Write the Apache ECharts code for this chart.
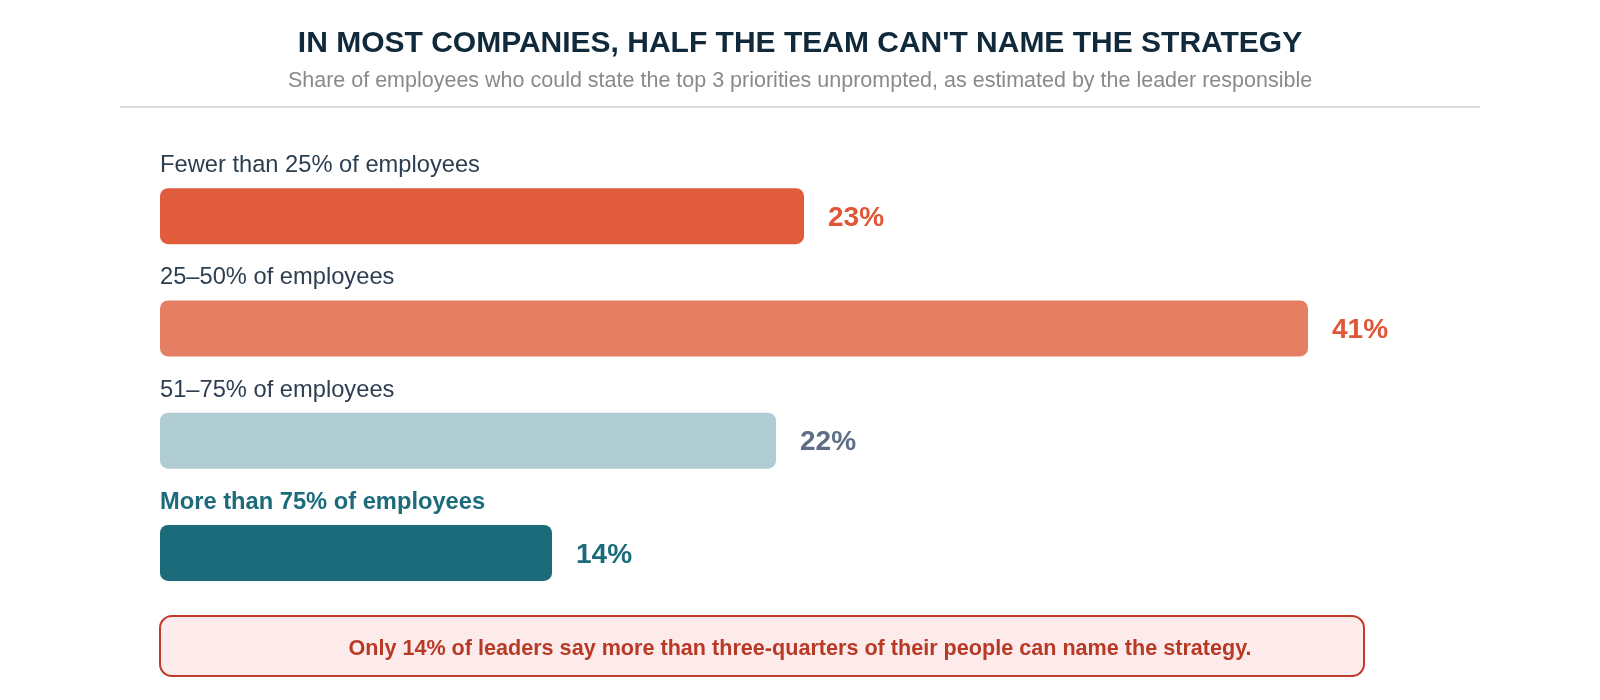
<!DOCTYPE html>
<html>
<head>
<meta charset="utf-8">
<title>Strategy awareness</title>
<script src="https://cdn.jsdelivr.net/npm/echarts@6/dist/echarts.min.js"></script>
<style>
  html, body { margin: 0; padding: 0; background: #fff; }
  #chart { width: 1600px; height: 700px; }
</style>
</head>
<body>
<div id="chart"></div>
<script>
// data
const categories = ["Fewer than 25% of employees", "25–50% of employees", "51–75% of employees", "More than 75% of employees"];
const shares = [23, 41, 22, 14];
const barColors = ["#e05c3c", "#e67e64", "#b0cdd3", "#1b6b7b"];
const valueColors = ["#e05636", "#e05636", "#5f6e88", "#1b6b7b"];
const highlightIndex = 3;

const titleText = "IN MOST COMPANIES, HALF THE TEAM CAN'T NAME THE STRATEGY";
const subText = "Share of employees who could state the top 3 priorities unprompted, as estimated by the leader responsible";
const noteText = "Only 14% of leaders say more than three-quarters of their people can name the strategy.";

const FONT = '"Liberation Sans", Arial, sans-serif';

const chart = echarts.init(document.getElementById('chart'));

const option = {
  animation: false,
  textStyle: { fontFamily: FONT },
  title: [{
    text: titleText,
    left: 'center',
    top: 24,
    textStyle: { color: '#10293b', fontSize: 30, fontWeight: 'bold', fontFamily: FONT }
  }, {
    text: subText,
    left: 'center',
    top: 65,
    textStyle: { color: '#8a8a8a', fontSize: 21.5, fontWeight: 'normal', fontFamily: FONT }
  }],
  grid: { left: 160, right: 292, top: 160, height: 449, containLabel: false },
  xAxis: {
    type: 'value',
    min: 0,
    max: 41,
    show: false
  },
  yAxis: {
    type: 'category',
    inverse: true,
    data: categories,
    axisLine: { show: false },
    axisTick: { show: false },
    splitLine: { show: false },
    axisLabel: {
      inside: true,
      margin: 0,
      align: 'left',
      verticalAlign: 'middle',
      padding: [0, 0, 101, 0],
      formatter: function (v, i) {
        return i === highlightIndex ? '{hl|' + v + '}' : '{n|' + v + '}';
      },
      rich: {
        n: { fontSize: 23.7, color: '#2c3e50', fontFamily: FONT },
        hl: { fontSize: 23.7, color: '#1b6b7b', fontWeight: 'bold', fontFamily: FONT }
      }
    }
  },
  series: [{
    type: 'bar',
    barWidth: 56,
    data: shares.map((v, i) => ({
      value: v,
      itemStyle: { color: barColors[i], borderRadius: 8 },
      label: { color: valueColors[i] }
    })),
    label: {
      show: true,
      position: 'right',
      distance: 24,
      offset: [0, 2],
      formatter: '{c}%',
      fontSize: 28,
      fontWeight: 'bold',
      fontFamily: FONT
    }
  }],
  graphic: [{
    type: 'line',
    shape: { x1: 120, y1: 107, x2: 1480, y2: 107 },
    style: { stroke: '#dddddd', lineWidth: 2 }
  }, {
    type: 'rect',
    shape: { x: 160, y: 616, width: 1204, height: 60, r: 12 },
    style: { fill: '#fdeaea', stroke: '#c0392b', lineWidth: 2 }
  }, {
    type: 'text',
    x: 800,
    y: 649,
    style: {
      text: noteText,
      fill: '#b83a26',
      font: 'bold 21.6px ' + FONT,
      textAlign: 'center',
      textVerticalAlign: 'middle'
    }
  }]
};

chart.setOption(option);
</script>
</body>
</html>
